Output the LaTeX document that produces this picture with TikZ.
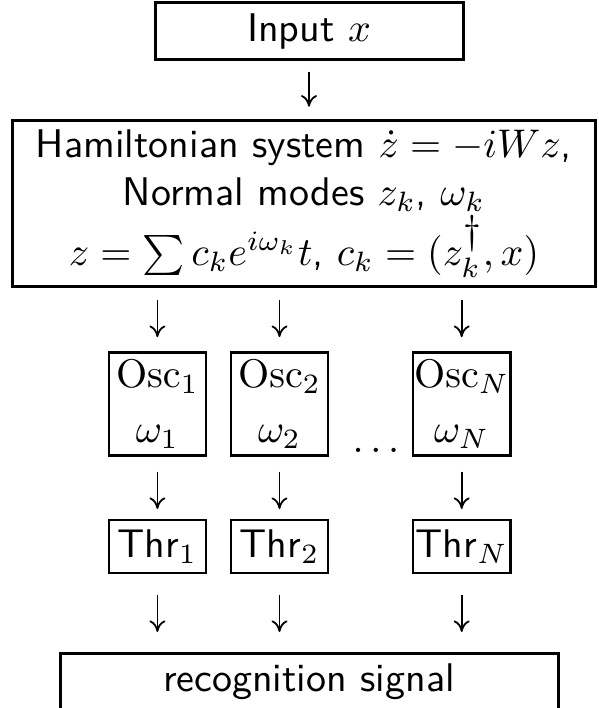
\documentclass[tikz,border=0pt]{standalone}
\usetikzlibrary{arrows.meta}
\tikzset{
  bigbox/.style={draw, line width=0.75pt, outer sep=0pt, inner sep=0pt, align=center, font=\sffamily},
  smallbox/.style={draw, line width=0.62pt, outer sep=0pt, inner sep=0pt, align=center, font=\sffamily,
                   minimum width=24.3pt},
  arr/.style={line width=0.45pt, -{Computer Modern Rightarrow[length=2.9pt,width=4pt]}},
}
\begin{document}
\begin{tikzpicture}[x=0.25pt,y=-0.25pt]
\useasboundingbox (0,0) rectangle (599,708);
% top input box
\node[bigbox, minimum width=77pt, minimum height=14.25pt] (in) at (309,31) {Input $x$};
% Hamiltonian box
\node[bigbox, minimum width=145.75pt, minimum height=41.4pt] (ham) at (304,203.5)
  {Hamiltonian system $\dot z=-iWz$,\\
   Normal modes $z_k$, $\omega_k$\\
   $z=\sum c_k e^{i\omega_k}t$, $c_k=(z_k^{\textstyle\dagger},x)$};
% oscillators
\node[smallbox, minimum height=25.75pt] (osc1) at (157.4,404.2) {$\mathrm{Osc}_1$\\[1.75pt]$\omega_1$};
\node[smallbox, minimum height=25.75pt] (osc2) at (279.5,404.2) {$\mathrm{Osc}_2$\\[1.75pt]$\omega_2$};
\node[smallbox, minimum height=25.75pt] (oscN) at (461.7,404.2) {$\mathrm{Osc}_N$\\[1.75pt]$\omega_N$};
\node[anchor=base, inner sep=0pt] (dots) at (376,452) {$\ldots$};
% thresholds
\node[smallbox, minimum height=13.25pt] (thr1) at (157.4,546.5) {Thr$_1$};
\node[smallbox, minimum height=13.25pt] (thr2) at (279.5,546.5) {Thr$_2$};
\node[smallbox, minimum height=13.25pt] (thrN) at (461.7,546.5) {Thr$_N$};
% recognition box (cut by the lower edge)
\node[bigbox, minimum width=124.5pt, minimum height=20pt, text height=7pt, text depth=8pt] (rec) at (309,693)
  {recognition signal};
% connectors
\draw[arr, shorten <=3pt, shorten >=3.5pt] (in.south) -- (in.south |- ham.north);
\foreach \o/\t in {osc1/thr1, osc2/thr2, oscN/thrN}{
  \draw[arr, shorten <=3.5pt, shorten >=3.9pt] (ham.south -| \o.north) -- (\o.north);
  \draw[arr, shorten <=4pt, shorten >=2.75pt] (\o.south) -- (\t.north);
  \draw[arr, shorten <=5.5pt, shorten >=5.25pt] (\t.south) -- (\t.south |- rec.north);
}
\end{tikzpicture}
\end{document}
